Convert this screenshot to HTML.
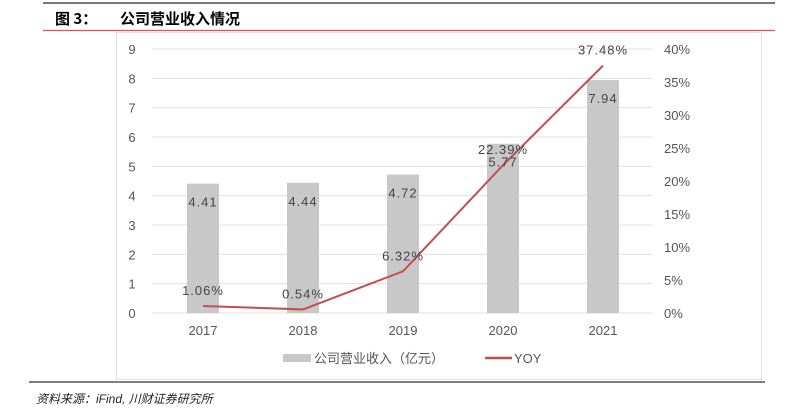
<!DOCTYPE html>
<html><head><meta charset="utf-8"><style>
body{margin:0;background:#fff;width:790px;height:419px;overflow:hidden;font-family:"Liberation Sans","Noto Sans CJK SC",sans-serif;}
</style></head><body>
<svg width="790" height="419" style="position:absolute;left:0;top:0">
<line x1="43" y1="3" x2="775" y2="3" stroke="#777" stroke-width="2"/>
<text x="55" y="24" font-size="15" font-weight="bold" font-family="'Noto Sans CJK SC',sans-serif">图 3：</text>
<text x="120" y="24" font-size="15" font-weight="bold" font-family="'Noto Sans CJK SC',sans-serif">公司营业收入情况</text>
<line x1="43" y1="30.5" x2="775" y2="30.5" stroke="#d9534f" stroke-width="1.3"/>
<rect x="116.5" y="32.5" width="645" height="347" fill="none" stroke="#e2e2e2"/>
<g id="grid"></g><g id="bars"></g><g id="line"></g><g id="labels"></g>
<rect x="283" y="354" width="28" height="8" fill="#c8c8c8"/>
<text x="314" y="363" font-size="13" fill="#555">公司营业收入（亿元）</text>
<line x1="485" y1="358" x2="512" y2="358" stroke="#c0504d" stroke-width="2.5"/>
<text x="514" y="363" font-size="13" fill="#555">YOY</text>
<line x1="29" y1="382" x2="765" y2="382" stroke="#555" stroke-width="1.5"/>
<text x="36" y="403" font-size="12" font-style="italic" fill="#222">资料来源：iFind, 川财证券研究所</text>
</svg>
<script>
const categories=["2017","2018","2019","2020","2021"];
const revenue=[4.41,4.44,4.72,5.77,7.94];
const yoy=[1.06,0.54,6.32,22.39,37.48];
const leftTicks=[0,1,2,3,4,5,6,7,8,9];
const rightTicks=[0,5,10,15,20,25,30,35,40];
const NS="http://www.w3.org/2000/svg";
const y0=313,y1=49;
const yL=v=>y0-(v/9)*(y0-y1);
const yR=v=>y0-(v/40)*(y0-y1);
const xC=i=>203+i*100;
function mk(tag,attrs,parent,txt){const e=document.createElementNS(NS,tag);for(const k in attrs)e.setAttribute(k,attrs[k]);if(txt!==undefined)e.textContent=txt;document.getElementById(parent).appendChild(e);return e;}
leftTicks.forEach(t=>{
 const l=mk('line',{x1:152,x2:652,y1:yL(t),y2:yL(t),stroke:'#e0e0e0'},'grid');
 
 
 const tx=mk('text',{x:132,y:yL(t)+5,'font-size':13,fill:'#555','text-anchor':'middle'},'labels',String(t));
 
 
});
rightTicks.forEach(t=>{
 const tx=mk('text',{x:664,y:yR(t)+5,'font-size':13,fill:'#555'},'labels',t+'%');
 
 
});
categories.forEach((c,i)=>{
 const b=mk('rect',{x:xC(i)-16,y:yL(revenue[i]),width:32,height:y0-yL(revenue[i]),fill:'#c8c8c8'},'bars');
 
 
 const tx=mk('text',{x:xC(i),y:330+5,'font-size':13,fill:'#555','text-anchor':'middle'},'labels',c);
 
 
 const bl=mk('text',{x:xC(i),y:yL(revenue[i])+23,'font-size':13,fill:'#444','text-anchor':'middle','letter-spacing':'1'},'labels',revenue[i].toFixed(2));
 
 
 const yl=mk('text',{x:xC(i),y:yR(yoy[i])-11,'font-size':13,fill:'#444','text-anchor':'middle','letter-spacing':'1'},'labels',yoy[i].toFixed(2)+'%');
 
 
});
const p=mk('polyline',{points:yoy.map((v,i)=>xC(i)+','+yR(v)).join(' '),fill:'none',stroke:'#c0504d','stroke-width':2},'line');


</script>
</body></html>
